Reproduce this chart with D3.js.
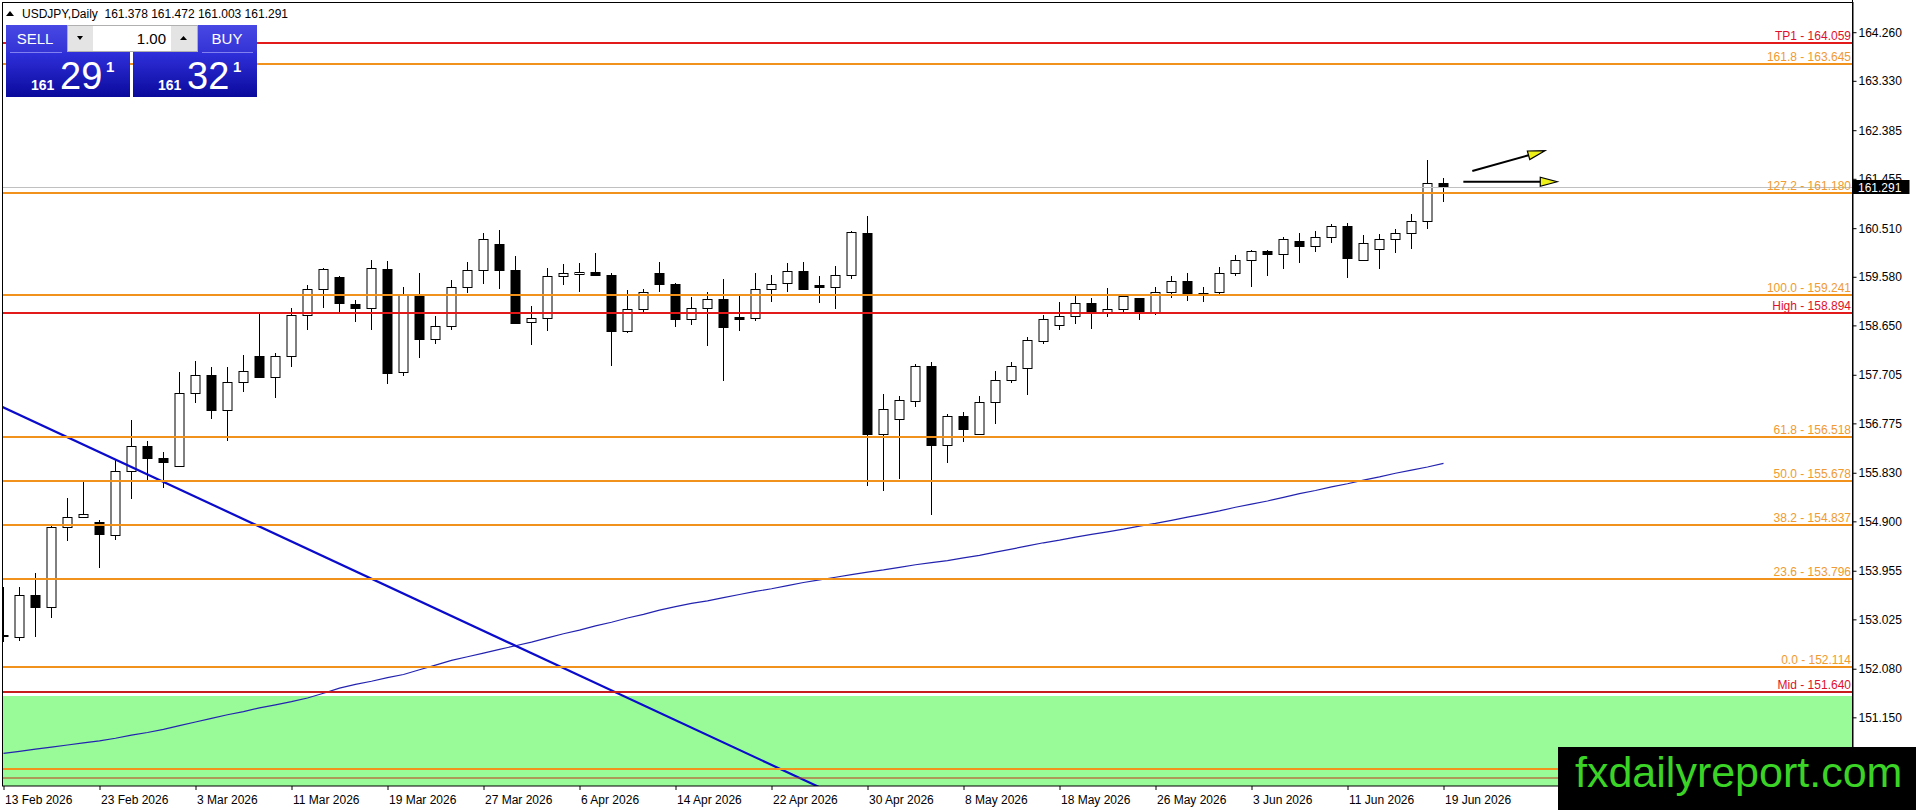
<!DOCTYPE html>
<html>
<head>
<meta charset="utf-8">
<title>USDJPY Daily</title>
<script src="https://cdn.jsdelivr.net/npm/d3@7"></script>
<style>
  body { margin: 0; background: #fff; }
  svg { display: block; font-family: "Liberation Sans", Arial, sans-serif; }
</style>
</head>
<body>
<svg id="chart" width="1916" height="810"></svg>
<script>
// data
const symbol = "USDJPY,Daily";
const firstDay = new Date(2026, 1, 13);
const lastDay = new Date(2026, 5, 19);

const opens = [152.73,152.68,153.49,153.27,154.80,154.98,154.89,154.63,155.87,156.35,
  156.11,155.96,157.35,157.71,157.04,157.56,158.06,157.67,158.07,158.84,
  159.34,159.57,159.05,158.98,159.72,157.76,159.25,158.38,158.64,159.38,
  159.71,160.21,159.71,158.71,158.80,159.59,159.63,159.67,159.61,158.55,
  158.96,159.65,159.44,158.77,158.98,159.15,158.82,158.80,159.35,159.47,
  159.70,159.42,159.39,159.61,160.41,156.57,156.85,157.21,157.87,156.37,
  156.91,156.57,157.18,157.60,157.84,158.36,158.65,158.83,159.07,158.91,
  158.96,159.17,158.88,159.28,159.49,159.25,159.28,159.65,159.90,160.07,
  160.01,160.26,160.16,160.35,160.55,159.91,160.12,160.31,160.42,160.64,161.378];
const highs = [153.65,153.64,153.92,154.83,155.34,155.66,154.93,156.09,156.83,156.44,
  156.23,157.75,157.96,157.86,157.86,158.08,158.894,158.13,158.98,159.43,
  159.74,159.59,159.13,159.90,159.88,159.39,159.66,158.83,159.51,159.87,
  160.42,160.47,159.98,159.02,159.74,159.82,159.85,160.04,159.66,159.33,
  159.34,159.87,159.47,159.19,159.29,159.53,159.21,159.65,159.61,159.84,
  159.87,159.59,159.79,160.46,160.74,157.34,157.30,157.92,157.94,156.95,
  156.99,157.29,157.78,157.94,158.43,158.85,159.09,159.21,159.17,159.37,
  159.22,159.18,159.39,159.59,159.65,159.39,159.77,160.00,160.10,160.09,
  160.35,160.41,160.46,160.59,160.60,160.38,160.40,160.49,160.79,161.81,161.472];
const lows = [152.60,152.62,152.69,153.06,154.53,154.96,154.00,154.54,155.33,155.69,
  155.53,155.95,157.16,156.85,156.44,157.38,157.64,157.27,157.86,158.56,
  158.99,158.87,158.72,158.57,157.52,157.69,158.02,158.29,158.57,159.27,
  159.44,159.34,158.68,158.27,158.55,159.42,159.29,159.59,157.88,158.50,
  158.91,159.29,158.61,158.66,158.25,157.59,158.55,158.74,159.10,159.29,
  159.34,159.08,158.96,159.53,155.57,155.49,155.71,157.08,155.02,156.02,
  156.42,156.55,156.76,157.55,157.32,158.29,158.56,158.68,158.58,158.82,
  158.91,158.75,158.85,159.17,159.11,159.10,159.26,159.60,159.38,159.59,
  159.73,159.85,160.06,160.23,159.56,159.90,159.73,160.04,160.11,160.49,161.003];
const closes = [152.70,153.49,153.27,154.80,154.98,155.05,154.65,155.87,156.35,156.11,
  156.04,157.35,157.71,157.04,157.56,157.78,157.67,158.07,158.84,159.34,
  159.72,159.07,158.98,159.74,157.74,159.23,158.38,158.64,159.38,159.71,
  160.30,159.71,158.70,158.80,159.59,159.65,159.67,159.61,158.55,158.96,
  159.28,159.44,158.77,158.98,159.15,158.62,158.78,159.35,159.45,159.70,
  159.35,159.39,159.61,160.43,156.57,157.05,157.23,157.87,156.37,156.91,
  156.67,157.18,157.60,157.87,158.37,158.77,158.83,159.07,158.91,158.96,
  159.21,158.91,159.28,159.49,159.26,159.27,159.65,159.90,160.07,160.01,
  160.31,160.16,160.35,160.55,159.93,160.22,160.31,160.42,160.64,161.37,161.291];

// moving average
const maValues = [150.46,150.50,150.54,150.58,150.62,150.66,150.70,150.75,150.81,150.86,150.92,
  150.99,151.06,151.13,151.20,151.26,151.33,151.39,151.45,151.52,151.61,
  151.71,151.78,151.84,151.91,151.97,152.06,152.15,152.24,152.31,152.38,
  152.45,152.52,152.59,152.67,152.75,152.82,152.90,152.97,153.05,153.12,
  153.20,153.27,153.33,153.38,153.44,153.50,153.56,153.61,153.67,153.73,
  153.78,153.83,153.88,153.93,153.97,154.02,154.07,154.11,154.15,154.20,
  154.25,154.31,154.37,154.43,154.49,154.54,154.60,154.65,154.70,154.75,
  154.81,154.86,154.92,154.98,155.04,155.10,155.17,155.23,155.29,155.36,
  155.43,155.49,155.56,155.62,155.69,155.75,155.82,155.88,155.94,156.01];

// horizontal levels
const levelNames  = ["TP1", "161.8", "127.2", "100.0", "High", "61.8", "50.0", "38.2", "23.6", "0.0", "Mid", "", ""];
const levelPrices = [164.059, 163.645, 161.180, 159.241, 158.894, 156.518, 155.678, 154.837, 153.796, 152.114, 151.640, 150.170, 149.980];
const levelKinds  = ["red", "fib", "fib", "fib", "red", "fib", "fib", "fib", "fib", "fib", "mid", "fib", "thin"];

const zoneTop = 151.56;
const bidPrice = 161.291;
const askPrice = 161.321;

const trendBars = [0, 40];
const trendPrices = [157.08, 151.38];

// arrows: [startBar, startPrice, tipBar, tipPrice]
const arrows = [
  [91.8, 161.604, 96.34, 161.992],
  [91.24, 161.399, 97.11, 161.399]
];

const yTicks = [164.260, 163.330, 162.385, 161.455, 160.510, 159.580, 158.650, 157.705,
  156.775, 155.830, 154.900, 153.955, 153.025, 152.080, 151.150];
const xTickBars = [0, 6, 12, 18, 24, 30, 36, 42, 48, 54, 60, 66, 72, 78, 84, 90];

// ----------------------------------------------------------------
const svg = d3.select("#chart");
const W = 1916, H = 810;
const plotL = 3, plotT = 3, plotR = 1853, plotB = 786;

const dates = d3.timeDay.range(firstDay, d3.timeDay.offset(lastDay, 1))
  .filter(d => d.getDay() !== 0 && d.getDay() !== 6);
const fmtDate = d3.timeFormat("%-d %b %Y");

const x = d3.scaleLinear().domain([0, dates.length - 1]).range([3.5, 3.5 + 16 * (dates.length - 1)]);
const y = d3.scaleLinear().domain([149.836, 164.819]).range([plotB, plotT]);

const px = v => Math.floor(x(v)) + 0.5;
const py = v => Math.round(y(v));

const defs = svg.append("defs");
defs.append("clipPath").attr("id", "plotclip")
  .append("rect").attr("x", plotL).attr("y", plotT)
  .attr("width", plotR - plotL).attr("height", plotB - plotT);

const plot = svg.append("g").attr("clip-path", "url(#plotclip)");

// green zone
plot.append("rect")
  .attr("x", plotL).attr("y", py(zoneTop))
  .attr("width", plotR - plotL).attr("height", plotB - py(zoneTop))
  .attr("fill", "#98FB98");

// candles
const bars = dates.map((d, i) => ({ date: d, i, o: opens[i], h: highs[i], l: lows[i], c: closes[i] }));
const cg = plot.append("g");
cg.selectAll("line").data(bars).join("line")
  .attr("x1", d => px(d.i)).attr("x2", d => px(d.i))
  .attr("y1", d => py(d.h)).attr("y2", d => py(d.l))
  .attr("stroke", "#000").attr("stroke-width", 1);
cg.selectAll("rect").data(bars).join("rect")
  .attr("x", d => px(d.i) - 4.5)
  .attr("y", d => py(Math.max(d.o, d.c)) + 0.5)
  .attr("width", 9)
  .attr("height", d => Math.max(1, py(Math.min(d.o, d.c)) - py(Math.max(d.o, d.c))))
  .attr("fill", d => d.c >= d.o ? "#fff" : "#000")
  .attr("stroke", "#000").attr("stroke-width", 1);

// moving average
plot.append("path")
  .datum(maValues)
  .attr("d", d3.line().x((d, i) => x(i)).y(d => y(d)))
  .attr("fill", "none").attr("stroke", "#2323b0").attr("stroke-width", 1.2);

// trend line
const trendAt = b => trendPrices[0] + (b - trendBars[0]) * (trendPrices[1] - trendPrices[0]) / (trendBars[1] - trendBars[0]);
plot.append("line")
  .attr("x1", x(-2)).attr("y1", y(trendAt(-2)))
  .attr("x2", x(60)).attr("y2", y(trendAt(60)))
  .attr("stroke", "#0b0bcc").attr("stroke-width", 2.2);

// bid line
plot.append("line")
  .attr("x1", plotL).attr("x2", plotR)
  .attr("y1", py(bidPrice) + 0.5).attr("y2", py(bidPrice) + 0.5)
  .attr("stroke", "#c0c0c0").attr("stroke-width", 1);

// levels
const lineColor = { red: "#e21a1a", fib: "#f1921c", mid: "#c81d1d", thin: "#c0391a" };
const textColor = { red: "#e0102a", fib: "#f09a30", mid: "#e0102a", thin: "#c0391a" };
const levels = levelNames.map((n, i) => ({ name: n, price: levelPrices[i], kind: levelKinds[i] }));
plot.selectAll("line.level").data(levels).join("line")
  .attr("class", "level")
  .attr("x1", 0).attr("x2", plotR)
  .attr("y1", d => py(d.price)).attr("y2", d => py(d.price))
  .attr("stroke", d => lineColor[d.kind])
  .attr("stroke-width", d => d.kind === "thin" ? 1.2 : 2);
svg.selectAll("text.level").data(levels.filter(d => d.name)).join("text")
  .attr("class", "level")
  .attr("x", plotR - 2).attr("y", d => py(d.price) - 3)
  .attr("text-anchor", "end")
  .attr("font-size", 12)
  .attr("fill", d => textColor[d.kind])
  .text(d => `${d.name} - ${d.price.toFixed(3)}`);

// arrows
arrows.forEach(a => {
  const x0 = x(a[0]), y0 = y(a[1]), x1 = x(a[2]), y1 = y(a[3]);
  const len = Math.hypot(x1 - x0, y1 - y0);
  const ux = (x1 - x0) / len, uy = (y1 - y0) / len;
  const hl = 17, hw = 4.5;
  const bx = x1 - ux * hl, by = y1 - uy * hl;
  svg.append("line")
    .attr("x1", x0).attr("y1", y0).attr("x2", bx).attr("y2", by)
    .attr("stroke", "#000").attr("stroke-width", 2);
  svg.append("polygon")
    .attr("points", [[x1, y1], [bx - uy * hw, by + ux * hw], [bx + uy * hw, by - ux * hw]].map(p => p.join(",")).join(" "))
    .attr("fill", "#eef01a").attr("stroke", "#000").attr("stroke-width", 1.2);
});

// frame
svg.append("rect")
  .attr("x", 2.5).attr("y", 2.5)
  .attr("width", plotR - 2.5).attr("height", plotB - 2.5)
  .attr("fill", "none").attr("stroke", "#000").attr("stroke-width", 1);
svg.append("line")
  .attr("x1", plotR - 0.5).attr("x2", plotR - 0.5).attr("y1", 0).attr("y2", plotB)
  .attr("stroke", "#000");

// y axis
const yAxis = d3.axisRight(y).tickValues(yTicks).tickSize(4).tickPadding(2)
  .tickFormat(d3.format(".3f"));
const yg = svg.append("g").attr("transform", `translate(${plotR - 0.5},0)`).call(yAxis);
yg.select(".domain").remove();
yg.selectAll("text").attr("font-size", 12).attr("font-family", "Liberation Sans, Arial, sans-serif").attr("fill", "#000");

// bid box
svg.append("rect").attr("x", plotR - 0.5).attr("y", py(bidPrice) - 7)
  .attr("width", 57).attr("height", 14).attr("fill", "#000");
svg.append("text").attr("x", plotR + 5).attr("y", py(bidPrice) + 4.5)
  .attr("font-size", 12).attr("fill", "#fff").text(bidPrice.toFixed(3));

// x axis
const xAxis = d3.axisBottom(x).tickValues(xTickBars).tickSize(4)
  .tickFormat(i => fmtDate(dates[i]));
const xg = svg.append("g").attr("transform", `translate(0,${plotB})`).call(xAxis);
xg.select(".domain").remove();
xg.selectAll("text").attr("text-anchor", "start").attr("x", 1).attr("dy", "0.95em")
  .attr("font-size", 12).attr("font-family", "Liberation Sans, Arial, sans-serif").attr("fill", "#000");

// header
const last = bars[bars.length - 1];
svg.append("path").attr("d", "M6,16 L14,16 L10,11 Z").attr("fill", "#000");
svg.append("text").attr("x", 22).attr("y", 17.5).attr("font-size", 12).attr("fill", "#000")
  .style("white-space", "pre")
  .text(`${symbol}  ${last.o.toFixed(3)} ${last.h.toFixed(3)} ${last.l.toFixed(3)} ${last.c.toFixed(3)}`);

// trade panel
const g1 = defs.append("linearGradient").attr("id", "bigBlue").attr("x1", 0).attr("y1", 0).attr("x2", 0).attr("y2", 1);
g1.append("stop").attr("offset", "0%").attr("stop-color", "#3030dc");
g1.append("stop").attr("offset", "100%").attr("stop-color", "#0a0a9c");
const g2 = defs.append("linearGradient").attr("id", "headBlue").attr("x1", 0).attr("y1", 0).attr("x2", 0).attr("y2", 1);
g2.append("stop").attr("offset", "0%").attr("stop-color", "#4848e4");
g2.append("stop").attr("offset", "100%").attr("stop-color", "#3434d6");

const panel = svg.append("g");
[[6, bidPrice], [133, askPrice]].forEach(([x0, price]) => {
  panel.append("rect").attr("x", x0).attr("y", 25).attr("width", 124).attr("height", 27).attr("fill", "url(#headBlue)");
  panel.append("rect").attr("x", x0).attr("y", 52).attr("width", 124).attr("height", 45).attr("fill", "url(#bigBlue)");
  const s = price.toFixed(3);
  panel.append("text").attr("x", x0 + 25).attr("y", 90).attr("font-size", 14).attr("font-weight", "bold")
    .attr("fill", "#fff").text(s.slice(0, 3));
  panel.append("text").attr("x", x0 + 54).attr("y", 89).attr("font-size", 38)
    .attr("fill", "#fff").text(s.slice(4, 6));
  panel.append("text").attr("x", x0 + 100).attr("y", 72).attr("font-size", 15).attr("font-weight", "bold")
    .attr("fill", "#fff").text(s.slice(6));
});
panel.append("text").attr("x", 35).attr("y", 44).attr("text-anchor", "middle").attr("font-size", 15)
  .attr("fill", "#fff").text("SELL");
panel.append("text").attr("x", 227).attr("y", 44).attr("text-anchor", "middle").attr("font-size", 15)
  .attr("fill", "#fff").text("BUY");
panel.append("line").attr("x1", 10).attr("x2", 62).attr("y1", 52.5).attr("y2", 52.5).attr("stroke", "#8080f0");
panel.append("line").attr("x1", 202).attr("x2", 253).attr("y1", 52.5).attr("y2", 52.5).attr("stroke", "#8080f0");
// lot box
panel.append("rect").attr("x", 67.5).attr("y", 25.5).attr("width", 130).attr("height", 26)
  .attr("fill", "#fff").attr("stroke", "#b0b0b0");
panel.append("rect").attr("x", 68).attr("y", 26).attr("width", 25).attr("height", 25).attr("fill", "#e4e4e4");
panel.append("rect").attr("x", 171).attr("y", 26).attr("width", 26).attr("height", 25).attr("fill", "#e4e4e4");
panel.append("path").attr("d", "M77,36 L83,36 L80,40 Z").attr("fill", "#000");
panel.append("path").attr("d", "M180,40 L187,40 L183.5,36 Z").attr("fill", "#000");
panel.append("text").attr("x", 166).attr("y", 44).attr("text-anchor", "end").attr("font-size", 15)
  .attr("fill", "#000").text("1.00");

// watermark banner
svg.append("rect").attr("x", 1558).attr("y", 747).attr("width", W - 1558).attr("height", H - 747).attr("fill", "#000");
svg.append("text").attr("x", 1575).attr("y", 787).attr("font-size", 43)
  .attr("fill", "#3bd326").text("fxdailyreport.com");
</script>
</body>
</html>
